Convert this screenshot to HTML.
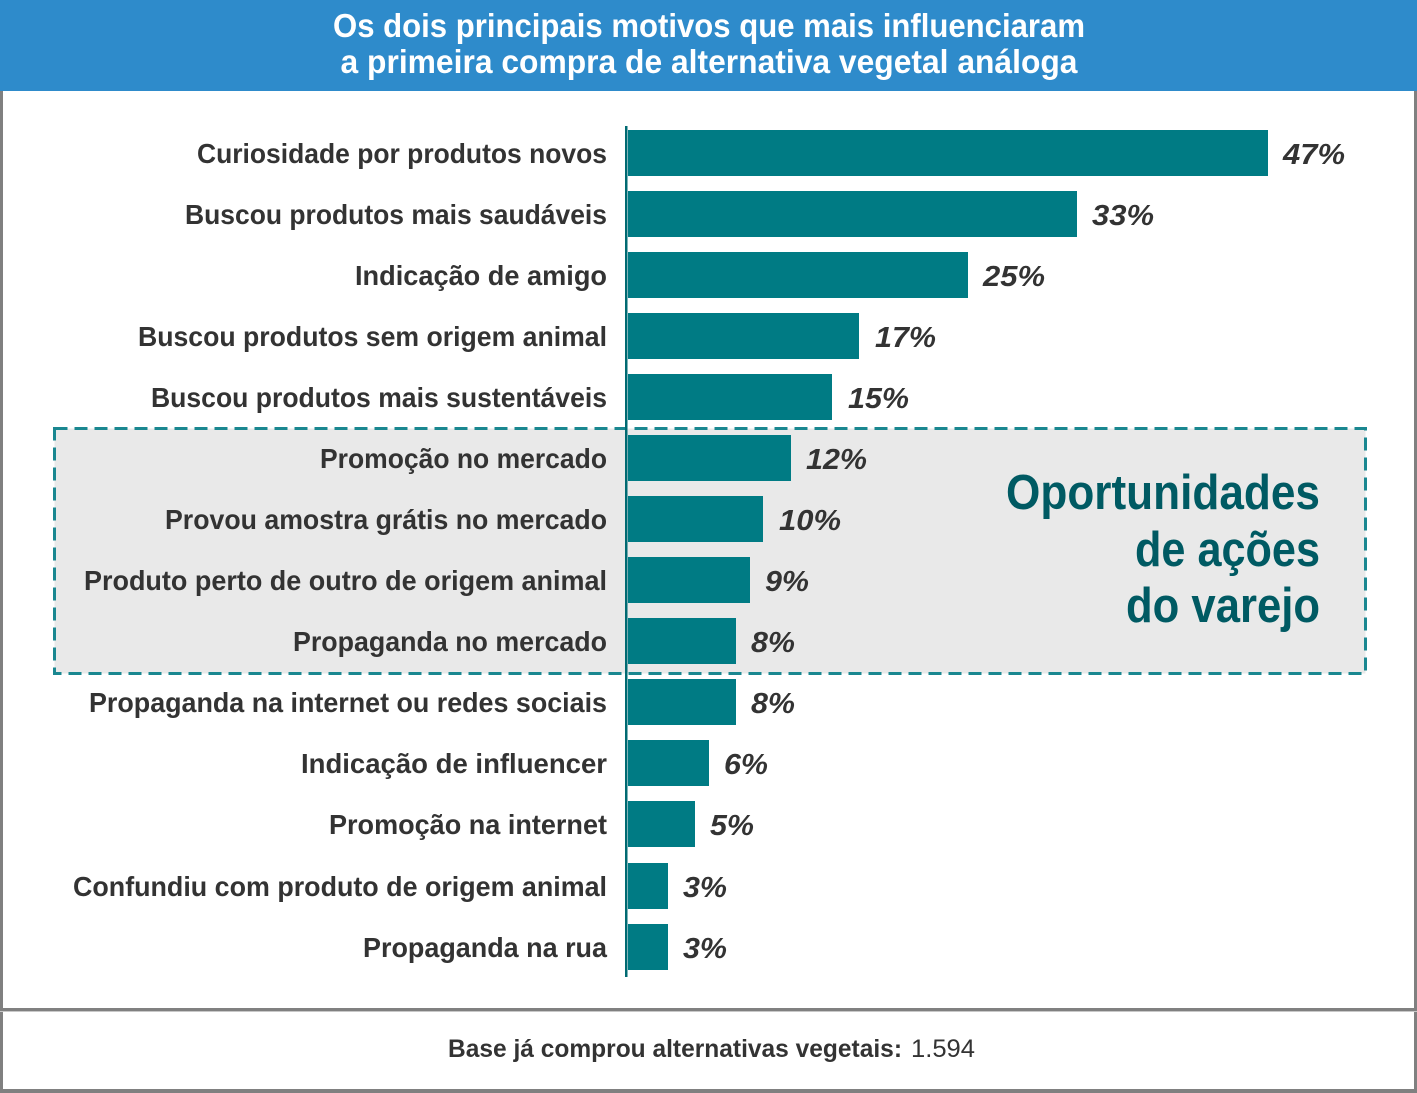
<!DOCTYPE html>
<html><head><meta charset="utf-8"><style>
html,body{margin:0;padding:0;background:#fff;}
svg{display:block;}
text{font-family:"Liberation Sans Narrow","Liberation Sans",sans-serif;}
</style></head><body>
<svg width="1417" height="1093" viewBox="0 0 1417 1093" xmlns="http://www.w3.org/2000/svg">
<rect x="0" y="0" width="1417" height="1093" fill="#fff"/>
<rect x="0" y="0" width="1417" height="91" fill="#2e8bcb"/>
<text x="709" y="37" text-anchor="middle" font-size="33" font-weight="bold" fill="#fff" textLength="752" lengthAdjust="spacingAndGlyphs">Os dois principais motivos que mais influenciaram</text>
<text x="709" y="73" text-anchor="middle" font-size="33" font-weight="bold" fill="#fff" textLength="737" lengthAdjust="spacingAndGlyphs">a primeira compra de alternativa vegetal análoga</text>
<rect x="0" y="91" width="3" height="1002" fill="#808080"/>
<rect x="1414" y="91" width="3" height="1002" fill="#808080"/>
<rect x="0" y="1008" width="1417" height="3" fill="#808080"/>
<rect x="0" y="1011" width="1417" height="1" fill="#c8c8c8"/>
<rect x="0" y="1089" width="1417" height="4" fill="#808080"/>

<rect x="54.5" y="428.5" width="1311" height="245" fill="#e9e9e9" stroke="#1a8790" stroke-width="3" stroke-dasharray="13 7"/>

<g fill="#007b84">
<rect x="628" y="130" width="640" height="46"/>
<rect x="628" y="191" width="449" height="46"/>
<rect x="628" y="252" width="340" height="46"/>
<rect x="628" y="313" width="231" height="46"/>
<rect x="628" y="374" width="204" height="46"/>
<rect x="628" y="435" width="163" height="46"/>
<rect x="628" y="496" width="135" height="46"/>
<rect x="628" y="557" width="122" height="46"/>
<rect x="628" y="618" width="108" height="46"/>
<rect x="628" y="679" width="108" height="46"/>
<rect x="628" y="740" width="81" height="46"/>
<rect x="628" y="801" width="67" height="46"/>
<rect x="628" y="863" width="40" height="46"/>
<rect x="628" y="924" width="40" height="46"/>
</g>
<rect x="625" y="126" width="2.5" height="851" fill="#006a72"/>

<g font-size="28" font-weight="bold" fill="#333" text-anchor="end">
<text x="607" y="163" textLength="410" lengthAdjust="spacingAndGlyphs">Curiosidade por produtos novos</text>
<text x="607" y="224" textLength="422" lengthAdjust="spacingAndGlyphs">Buscou produtos mais saudáveis</text>
<text x="607" y="285" textLength="252" lengthAdjust="spacingAndGlyphs">Indicação de amigo</text>
<text x="607" y="346" textLength="469" lengthAdjust="spacingAndGlyphs">Buscou produtos sem origem animal</text>
<text x="607" y="407" textLength="456" lengthAdjust="spacingAndGlyphs">Buscou produtos mais sustentáveis</text>
<text x="607" y="468" textLength="287" lengthAdjust="spacingAndGlyphs">Promoção no mercado</text>
<text x="607" y="529" textLength="442" lengthAdjust="spacingAndGlyphs">Provou amostra grátis no mercado</text>
<text x="607" y="590" textLength="523" lengthAdjust="spacingAndGlyphs">Produto perto de outro de origem animal</text>
<text x="607" y="651" textLength="314" lengthAdjust="spacingAndGlyphs">Propaganda no mercado</text>
<text x="607" y="712" textLength="518" lengthAdjust="spacingAndGlyphs">Propaganda na internet ou redes sociais</text>
<text x="607" y="773" textLength="306" lengthAdjust="spacingAndGlyphs">Indicação de influencer</text>
<text x="607" y="834" textLength="278" lengthAdjust="spacingAndGlyphs">Promoção na internet</text>
<text x="607" y="896" textLength="534" lengthAdjust="spacingAndGlyphs">Confundiu com produto de origem animal</text>
<text x="607" y="957" textLength="244" lengthAdjust="spacingAndGlyphs">Propaganda na rua</text>
</g>

<g font-size="29" font-weight="bold" font-style="italic" fill="#333" style="font-family:'Liberation Sans',sans-serif">
<text x="1283" y="164" textLength="62" lengthAdjust="spacingAndGlyphs">47%</text>
<text x="1092" y="225" textLength="62" lengthAdjust="spacingAndGlyphs">33%</text>
<text x="983" y="286" textLength="62" lengthAdjust="spacingAndGlyphs">25%</text>
<text x="875" y="347" textLength="61" lengthAdjust="spacingAndGlyphs">17%</text>
<text x="848" y="408" textLength="61" lengthAdjust="spacingAndGlyphs">15%</text>
<text x="806" y="469" textLength="61" lengthAdjust="spacingAndGlyphs">12%</text>
<text x="779" y="530" textLength="62" lengthAdjust="spacingAndGlyphs">10%</text>
<text x="765" y="591" textLength="44" lengthAdjust="spacingAndGlyphs">9%</text>
<text x="751" y="652" textLength="44" lengthAdjust="spacingAndGlyphs">8%</text>
<text x="751" y="713" textLength="44" lengthAdjust="spacingAndGlyphs">8%</text>
<text x="724" y="774" textLength="44" lengthAdjust="spacingAndGlyphs">6%</text>
<text x="710" y="835" textLength="44" lengthAdjust="spacingAndGlyphs">5%</text>
<text x="683" y="897" textLength="44" lengthAdjust="spacingAndGlyphs">3%</text>
<text x="683" y="958" textLength="44" lengthAdjust="spacingAndGlyphs">3%</text>
</g>

<g font-size="49" font-weight="bold" fill="#005a63" text-anchor="end">
<text x="1320" y="509" textLength="314" lengthAdjust="spacingAndGlyphs">Oportunidades</text>
<text x="1320" y="566" textLength="185" lengthAdjust="spacingAndGlyphs">de ações</text>
<text x="1320" y="622" textLength="194" lengthAdjust="spacingAndGlyphs">do varejo</text>
</g>

<text y="1057" font-size="25" fill="#333"><tspan x="448" font-weight="bold" textLength="454" lengthAdjust="spacingAndGlyphs">Base já comprou alternativas vegetais:</tspan><tspan x="911" textLength="64" lengthAdjust="spacingAndGlyphs">1.594</tspan></text>
</svg>
</body></html>
